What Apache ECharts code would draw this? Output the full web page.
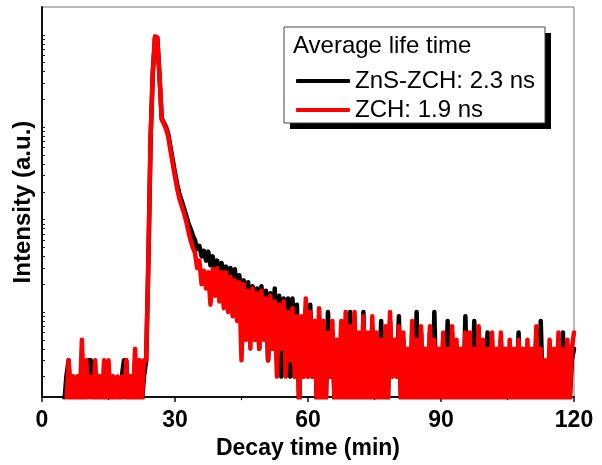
<!DOCTYPE html>
<html>
<head>
<meta charset="utf-8">
<script src="https://cdn.jsdelivr.net/npm/echarts@6/dist/echarts.min.js"></script>
<style>
html,body{margin:0;padding:0;background:#fff;}
#chart{width:602px;height:465px;}
</style>
</head>
<body>
<div id="chart"></div>
<script>
// Time channels (min): 5.0 to 120.0 in 0.5 min steps
const timeStart = 5.0;
const timeStep = 0.5;
const channelCount = 231;

// ZnS-ZCH photon counts (black), one row = 5 min
const countsZnSZCH = [
  1, 2, 3, 1, 2, 1, 2, 1, 3, 1,
  2, 3, 3, 1, 2, 1, 2, 1, 2, 1,
  2, 1, 2, 1, 1, 1, 2, 3, 3, 1,
  2, 1, 3, 1, 3, 1, 2, 3, 36, 760,
  3900, 9500, 9300, 3600, 1250, 1120, 1000, 830, 600, 440,
  320, 240, 190, 160, 135, 112, 92, 80, 68, 60,
  48, 52, 40, 46, 36, 45, 32, 40, 28, 36,
  26, 34, 22, 31, 20, 30, 18, 29, 16, 25,
  12, 22, 9, 21, 6, 19, 5, 18, 4, 19,
  6, 17, 3, 16, 4, 18, 3, 15, 2, 14,
  3, 14, 2, 14, 2, 12, 1, 8, 2, 11,
  2, 12, 2, 7, 1, 9, 1, 7, 1, 10,
  2, 6, 1, 4, 1, 7, 1, 8, 1, 10,
  1, 8, 1, 5, 1, 10, 1, 5, 1, 7,
  1, 5, 1, 8, 1, 6, 1, 8, 2, 4,
  2, 9, 1, 5, 1, 3, 1, 6, 1, 10,
  1, 6, 1, 3, 1, 6, 1, 10, 1, 3,
  1, 5, 1, 8, 1, 6, 1, 4, 1, 3,
  1, 9, 1, 5, 1, 8, 1, 6, 1, 4,
  1, 6, 1, 5, 1, 3, 1, 5, 1, 3,
  1, 4, 1, 3, 1, 6, 1, 3, 1, 4,
  1, 3, 1, 6, 1, 8, 1, 2, 1, 4,
  1, 3, 1, 5, 1, 6, 1, 4, 1, 3,
  4
];

// ZCH photon counts (red), one row = 5 min
const countsZCH = [
  '-', 1, 3, 1, 2, 1, 2, 1, 5, 1,
  3, 1, 2, 1, 3, 1, 2, 1, 3, 1,
  3, 1, 2, 1, 2, 1, 2, 1, 3, 1,
  2, 1, 4, 1, 3, 1, 3, 3, 38, 800,
  4000, 9600, 9400, 3700, 1220, 1080, 950, 780, 550, 400,
  290, 215, 168, 141, 119, 97, 76, 60, 50, 44,
  30, 36, 20, 28, 18, 27, 12, 29, 15, 30,
  13, 27, 11, 27, 10, 24, 9, 22, 8, 21,
  3, 20, 5, 17, 4, 18, 5, 16, 4, 17,
  5, 14, 3, 15, 4, 13, 2, 12, 4, 13,
  2, 10, 3, 11, 2, 9, 1, 9, 2, 14,
  2, 10, 2, 8, 1, 11, 1, 8, 1, 6,
  2, 8, 1, 5, 1, 8, 1, 10, 1, 7,
  1, 10, 1, 6, 1, 9, 1, 6, 1, 9,
  1, 6, 1, 5, 1, 7, 1, 10, 2, 5,
  2, 7, 1, 6, 1, 4, 1, 8, 1, 5,
  1, 7, 1, 4, 1, 7, 1, 5, 1, 4,
  1, 6, 1, 4, 1, 7, 1, 5, 1, 4,
  1, 6, 1, 6, 1, 4, 1, 7, 1, 5,
  1, 4, 1, 6, 1, 4, 1, 6, 1, 4,
  1, 5, 1, 4, 1, 5, 1, 4, 1, 5,
  1, 4, 1, 7, 1, 4, 1, 3, 1, 5,
  1, 4, 1, 6, 1, 4, 1, 5, 1, 4,
  6
];

const seriesNames = ['ZnS-ZCH: 2.3 ns', 'ZCH: 1.9 ns'];
const legendTitle = 'Average life time';
const xTicks = [0, 30, 60, 90, 120];
const yTickValues = [2,3,4,5,6,7,8,9,10,20,30,40,50,60,70,80,90,100,200,300,400,500,600,700,800,900,1000,2000,3000,4000,5000,6000,7000,8000,9000,10000];

const time = [];
for (let i = 0; i < channelCount; i++) time.push(+(timeStart + i * timeStep).toFixed(2));
const pairs = (vals) => time.map((t, i) => [t, vals[i]]);

const FONT = '"Liberation Sans", Arial, Helvetica, sans-serif';
const chart = echarts.init(document.getElementById('chart'), null, {renderer: 'canvas'});

chart.setOption({
  animation: false,
  backgroundColor: '#fff',
  grid: {left: 42, right: 28, top: 7, bottom: 65, show: true, borderColor: '#777', borderWidth: 1, backgroundColor: 'transparent'},
  xAxis: {
    type: 'value', min: xTicks[0], max: xTicks[xTicks.length - 1], interval: 30,
    name: 'Decay time (min)', nameLocation: 'middle', nameGap: 34,
    nameTextStyle: {fontFamily: FONT, fontSize: 23, fontWeight: 'bold', color: '#000'},
    axisLine: {show: true, lineStyle: {color: '#111', width: 2}},
    axisTick: {show: true, inside: false, length: 5, lineStyle: {color: '#111', width: 1.5}},
    minorTick: {show: true, splitNumber: 2, length: 3, lineStyle: {color: '#111', width: 1.2}},
    axisLabel: {fontFamily: FONT, fontSize: 23, fontWeight: 'bold', color: '#000', margin: 12},
    splitLine: {show: false}
  },
  yAxis: {
    type: 'log', logBase: 10, min: 1.2, max: 20000,
    name: 'Intensity (a.u.)', nameLocation: 'middle', nameGap: 7, nameRotate: 90,
    nameTextStyle: {fontFamily: FONT, fontSize: 24, fontWeight: 'bold', color: '#000'},
    axisLine: {show: true, lineStyle: {color: '#111', width: 2}},
    axisTick: {show: true, inside: true, length: 3, customValues: yTickValues, lineStyle: {color: '#222', width: 1}},
    axisLabel: {show: false},
    splitLine: {show: false}
  },
  legend: {
    orient: 'vertical', left: 291, top: 64, itemWidth: 54, itemHeight: 4, itemGap: 5,
    icon: 'roundRect', z: 10,
    textStyle: {fontFamily: FONT, fontSize: 24, color: '#000'},
    data: seriesNames
  },
  graphic: [
    {type: 'rect', z: 8, shape: {x: 290, y: 33, width: 261, height: 96}, style: {fill: '#000'}},
    {type: 'rect', z: 9, shape: {x: 284, y: 27, width: 261, height: 96}, style: {fill: '#fff', stroke: '#444', lineWidth: 1}},
    {type: 'text', z: 10, x: 293, y: 46, style: {text: legendTitle, font: '24px ' + FONT, fill: '#000', verticalAlign: 'middle'}}
  ],
  series: [
    {name: seriesNames[0], type: 'line', data: pairs(countsZnSZCH), showSymbol: false, symbol: 'none', clip: true, z: 2,
     lineStyle: {color: '#000', width: 4.5, join: 'round', cap: 'round'}, itemStyle: {color: '#000'}},
    {name: seriesNames[1], type: 'line', data: pairs(countsZCH), showSymbol: false, symbol: 'none', clip: true, z: 3,
     lineStyle: {color: '#ff0000', width: 4.5, join: 'round', cap: 'round'}, itemStyle: {color: '#ff0000'}}
  ]
});
</script>
</body>
</html>
